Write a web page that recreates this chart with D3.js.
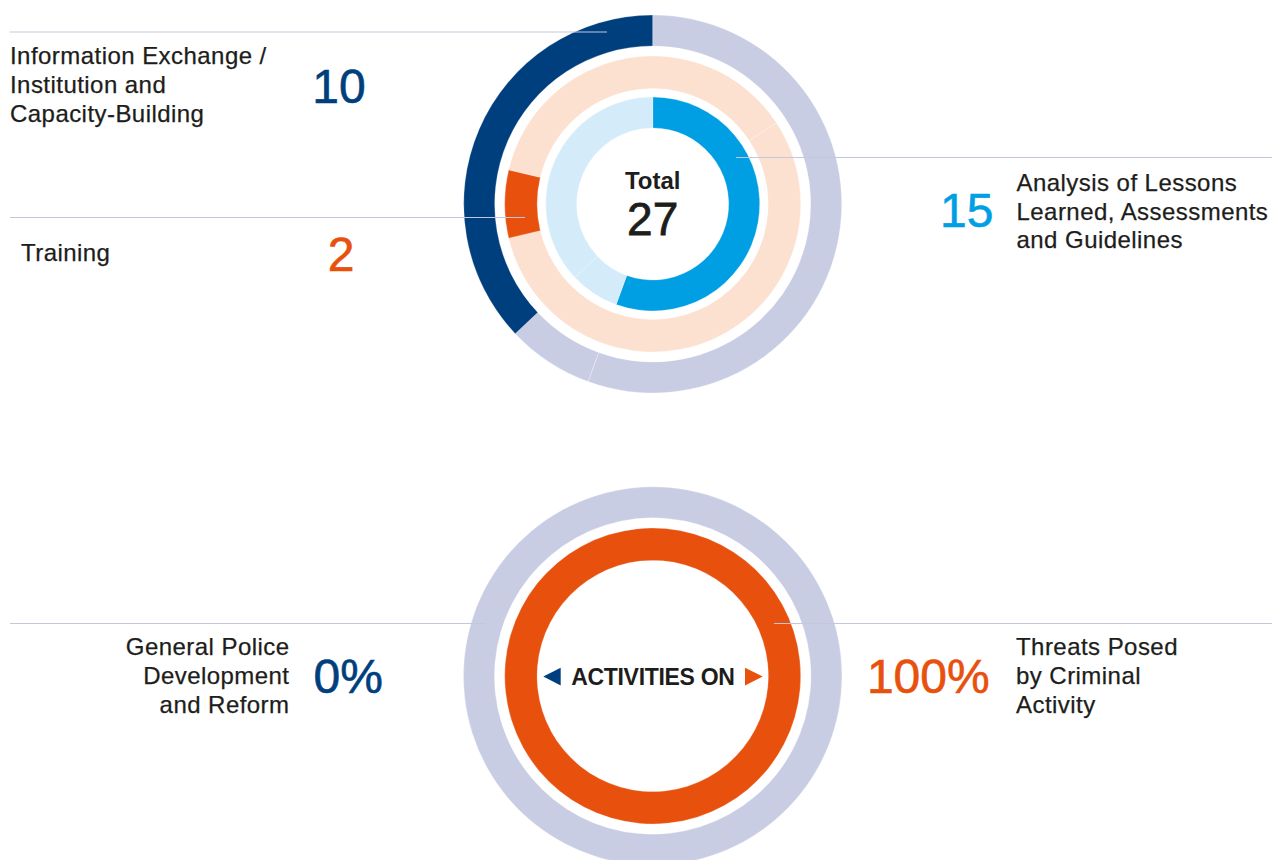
<!DOCTYPE html>
<html>
<head>
<meta charset="utf-8">
<script src="https://cdn.jsdelivr.net/npm/d3@7"></script>
<style>
  html, body { margin: 0; padding: 0; background: #fff; }
  text { font-family: "Liberation Sans", Arial, Helvetica, sans-serif; fill: #1d1d1b; }
</style>
</head>
<body>
<script>
// ===================================================================

const WIDTH = 1272
const HEIGHT = 860

// Top chart: number of activities per type (clockwise order of the rings)
const activityTypes = [
  'Analysis of Lessons Learned, Assessments and Guidelines',
  'Training',
  'Information Exchange / Institution and Capacity-Building'
]
const activityCounts = [15, 2, 10]
const activityTotal = 27

// Bottom chart: share of activities per theme (%)
const themes = [
  'General Police Development and Reform',
  'Threats Posed by Criminal Activity'
]
const themeShares = [0, 100]

// ===================================================================

const C_DARK = '#003f7d'
const C_GREY = '#c9cde3'
const C_ORANGE = '#e8500e'
const C_PEACH = '#fce0d0'
const C_BLUE = '#009fe3'
const C_LIGHTBLUE = '#d4ebfa'
const C_LINE = '#c3c7dd'
const C_TEXT = '#1d1d1b'

const RINGS = {
  outer: [158, 189],
  middle: [115.5, 148],
  inner: [76, 107]
}

const TOP_CENTER = [652.7, 204]
const BOTTOM_CENTER = [652.7, 676]

const deg = d => d * Math.PI / 180

// ===================================================================

const svg = d3.select('body')
  .append('svg')
    .attr('width', WIDTH)
    .attr('height', HEIGHT)

const drawRing = (g, values, radii, colors, startAngle) => {
  const pie = d3.pie()
    .sort(null)
    .value(d => d)
    .startAngle(startAngle)
    .endAngle(startAngle + 2 * Math.PI)

  const arc = d3.arc()
    .innerRadius(radii[0])
    .outerRadius(radii[1])

  g.append('g')
    .selectAll('path')
    .data(pie(values))
    .join('path')
      .attr('d', arc)
      .attr('fill', (d, i) => colors[i])
      .attr('stroke', '#fff')
      .attr('stroke-width', 0.6)
      .attr('stroke-opacity', 0.45)
}

const leader = (x1, x2, y) => {
  svg.append('line')
    .attr('x1', x1)
    .attr('x2', x2)
    .attr('y1', y)
    .attr('y2', y)
    .attr('stroke', C_LINE)
    .attr('stroke-width', 1.2)
}

const label = (lines, x, y, anchor) => {
  const t = svg.append('text')
    .attr('x', x)
    .attr('y', y)
    .attr('text-anchor', anchor)
    .style('font-size', '24px')
    .style('letter-spacing', '0.45px')
    .style('stroke', C_TEXT)
    .style('stroke-width', 0.25)
  lines.forEach((line, i) => {
    t.append('tspan')
      .attr('x', x)
      .attr('dy', i ? 28.8 : 0)
      .text(line)
  })
}

const bigNumber = (txt, x, y, color) => {
  svg.append('text')
    .attr('x', x)
    .attr('y', y)
    .attr('text-anchor', 'middle')
    .style('font-size', '48px')
    .style('fill', color)
    .style('stroke', color)
    .style('stroke-width', 0.6)
    .text(txt)
}

// ===================================================================
// Top chart

const topChart = svg.append('g')
  .attr('transform', `translate(${TOP_CENTER[0]}, ${TOP_CENTER[1]})`)

const sumBefore = i => d3.sum(activityCounts.slice(0, i))
const total = d3.sum(activityCounts)

// outer: information exchange, inner: analysis, both starting at 12 o'clock
drawRing(topChart, activityCounts, RINGS.outer, [C_GREY, C_GREY, C_DARK], 0)
drawRing(topChart, activityCounts, RINGS.inner, [C_BLUE, C_LIGHTBLUE, C_LIGHTBLUE], 0)

// middle: training, rotated so that its slice sits at 9 o'clock
const trainingMid = (sumBefore(1) + activityCounts[1] / 2) / total * 2 * Math.PI
drawRing(topChart, activityCounts, RINGS.middle, [C_PEACH, C_ORANGE, C_PEACH], deg(270) - trainingMid)

topChart.append('text')
  .attr('y', -14.7)
  .attr('text-anchor', 'middle')
  .style('font-size', '24px')
  .style('font-weight', 'bold')
  .text('Total')

topChart.append('text')
  .attr('y', 31)
  .attr('text-anchor', 'middle')
  .style('font-size', '46px')
  .style('stroke', C_TEXT)
  .style('stroke-width', 0.8)
  .text(activityTotal)

leader(10, 607, 32)
leader(10, 525, 217.5)
leader(736, WIDTH, 157.5)

label(['Information Exchange /', 'Institution and', 'Capacity-Building'], 10, 64.3, 'start')
bigNumber(activityCounts[2], 339, 102.7, C_DARK)

label(['Training'], 21, 260.7, 'start')
bigNumber(activityCounts[1], 341, 270.5, C_ORANGE)

label(['Analysis of Lessons', 'Learned, Assessments', 'and Guidelines'], 1016.5, 190.7, 'start')
bigNumber(activityCounts[0], 966.7, 227.3, C_BLUE)

// ===================================================================
// Bottom chart

const bottomChart = svg.append('g')
  .attr('transform', `translate(${BOTTOM_CENTER[0]}, ${BOTTOM_CENTER[1]})`)

drawRing(bottomChart, themeShares, RINGS.outer, [C_DARK, C_GREY], deg(140))
drawRing(bottomChart, themeShares, RINGS.middle, [C_PEACH, C_ORANGE], deg(140))

bottomChart.append('text')
  .attr('x', 0.2)
  .attr('y', 9)
  .attr('text-anchor', 'middle')
  .style('font-size', '23px')
  .style('font-weight', 'bold')
  .style('letter-spacing', '-0.3px')
  .text('ACTIVITIES ON')

bottomChart.append('path')
  .attr('d', 'M-109.4,0.5L-92,-8.3L-92,9.5Z')
  .attr('fill', C_DARK)

bottomChart.append('path')
  .attr('d', 'M110,0.5L92.3,-8.3L92.3,9.5Z')
  .attr('fill', C_ORANGE)

leader(10, 486, 623.5)
leader(774, WIDTH, 623.5)

label(['General Police', 'Development', 'and Reform'], 289.5, 655, 'end')
bigNumber(`${themeShares[0]}%`, 348.3, 693.3, C_DARK)

label(['Threats Posed', 'by Criminal', 'Activity'], 1016, 655, 'start')
bigNumber(`${themeShares[1]}%`, 928.3, 693.3, C_ORANGE)
</script>
</body>
</html>
